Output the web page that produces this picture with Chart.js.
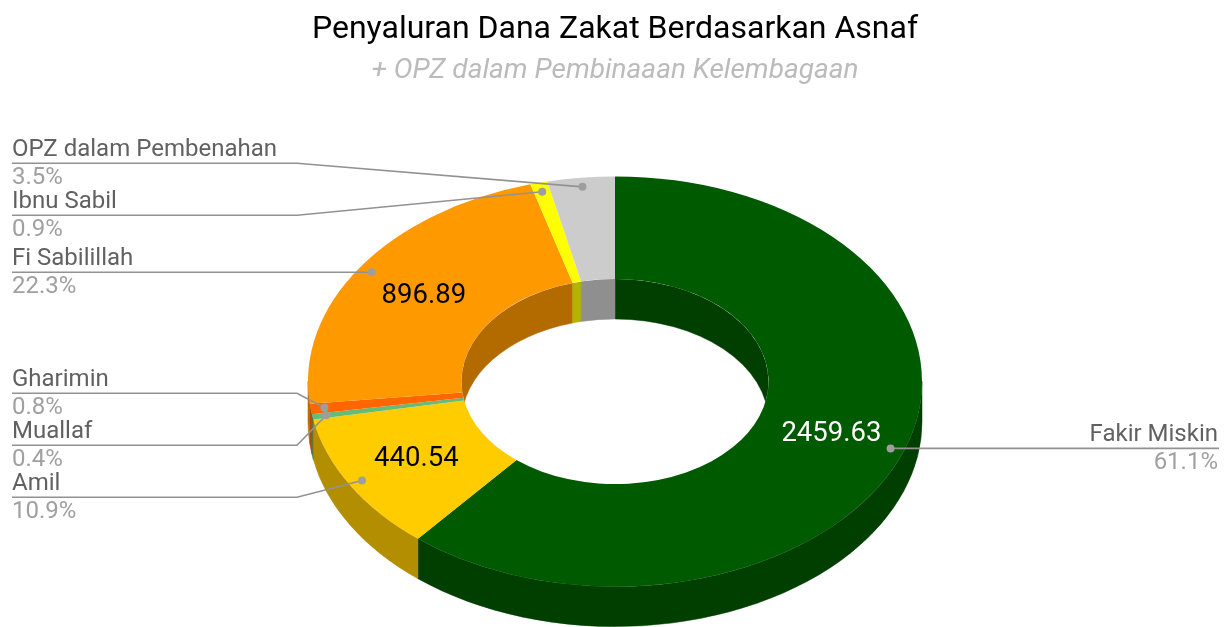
<!DOCTYPE html>
<html><head><meta charset="utf-8">
<script src="https://cdn.jsdelivr.net/npm/chart.js@4/dist/chart.umd.min.js"></script>
<style>html,body{margin:0;padding:0;background:#fff;overflow:hidden;} canvas{display:block;}</style>
</head><body>
<canvas id="c" width="1224" height="627"></canvas>
<script>
// ---- data ----
const categories = ['Fakir Miskin', 'Amil', 'Muallaf', 'Gharimin', 'Fi Sabilillah', 'Ibnu Sabil', 'OPZ dalam Pembenahan'];
const values = [2459.63, 440.54, 17, 33, 896.89, 36.5, 142.5];
const valueLabels = ['2459.63', '440.54', '', '', '896.89', '', ''];
const colors = ['#005a00', '#ffcc00', '#66bb77', '#ff6600', '#ff9900', '#ffff00', '#cccccc'];
const titleText = 'Penyaluran Dana Zakat Berdasarkan Asnaf';
const subtitleText = '+ OPZ dalam Pembinaaan Kelembagaan';

// ---- style ----
const TILT = 0.668;      // vertical squash of the pie
const DEPTH = 40;        // 3D thickness in px
const FONT = 'Roboto';

function shade(hex, f) {
  const n = parseInt(hex.slice(1), 16);
  const r = Math.round(((n >> 16) & 255) * f), g = Math.round(((n >> 8) & 255) * f), b = Math.round((n & 255) * f);
  return 'rgb(' + r + ',' + g + ',' + b + ')';
}
function luminance(hex) {
  const n = parseInt(hex.slice(1), 16);
  return (0.299 * ((n >> 16) & 255) + 0.587 * ((n >> 8) & 255) + 0.114 * (n & 255)) / 255;
}

function layoutLabels(items, gap) {
  items.sort((a, b) => a.dy - b.dy);
  let clusters = items.map(it => ({ items: [it] }));
  const pos = c => c.items.length === 1 ? c.items[0].dy :
    c.items.reduce((s, it, j) => s + it.target - j * gap, 0) / c.items.length;
  let changed = true;
  while (changed) {
    changed = false;
    for (let c = 0; c < clusters.length - 1; c++) {
      const A = clusters[c], B = clusters[c + 1];
      if (pos(A) + A.items.length * gap > pos(B)) {
        clusters.splice(c, 2, { items: A.items.concat(B.items) });
        changed = true; break;
      }
    }
  }
  clusters.forEach(c => { const p = pos(c); c.items.forEach((it, j) => it.y = p + j * gap); });
  return items;
}

const pie3d = {
  id: 'pie3d',
  beforeDatasetsDraw(chart) {
    const ctx = chart.ctx, meta = chart.getDatasetMeta(0);
    const a0 = meta.data[0], cx = a0.x, cy = a0.y;
    ctx.save();
    ctx.translate(cx, cy); ctx.scale(1, TILT); ctx.translate(-cx, -cy);
    const D = DEPTH / TILT;
    meta.data.forEach((arc, i) => {
      const p = arc.getProps(['startAngle', 'endAngle', 'outerRadius']);
      for (let k = -1; k <= 1; k++) {
        const lo = Math.max(p.startAngle, 2 * Math.PI * k), hi = Math.min(p.endAngle, 2 * Math.PI * k + Math.PI);
        if (hi > lo) {
          ctx.beginPath();
          ctx.arc(cx, cy, p.outerRadius, lo, hi);
          ctx.arc(cx, cy + D, p.outerRadius, hi, lo, true);
          ctx.closePath();
          ctx.fillStyle = shade(colors[i], 0.7);
          ctx.fill();
          ctx.strokeStyle = ctx.fillStyle; ctx.lineWidth = 0.6; ctx.stroke();
        }
      }
    });
  },
  afterDatasetsDraw(chart) {
    const ctx = chart.ctx, meta = chart.getDatasetMeta(0);
    const a0 = meta.data[0], cx = a0.x, cy = a0.y, rin = a0.innerRadius;
    const D = DEPTH / TILT;
    ctx.save();
    ctx.beginPath(); ctx.arc(cx, cy, rin, 0, 2 * Math.PI); ctx.clip();
    meta.data.forEach((arc, i) => {
      const p = arc.getProps(['startAngle', 'endAngle']);
      for (let k = -1; k <= 1; k++) {
        const lo = Math.max(p.startAngle, 2 * Math.PI * k - Math.PI), hi = Math.min(p.endAngle, 2 * Math.PI * k);
        if (hi > lo) {
          ctx.beginPath();
          ctx.arc(cx, cy, rin, lo, hi);
          ctx.arc(cx, cy + D, rin, hi, lo, true);
          ctx.closePath();
          ctx.fillStyle = shade(colors[i], 0.7);
          ctx.fill();
          ctx.strokeStyle = ctx.fillStyle; ctx.lineWidth = 0.6; ctx.stroke();
        }
      }
    });
    ctx.restore();
    ctx.restore();
  },
  afterDraw(chart) {
    const ctx = chart.ctx, meta = chart.getDatasetMeta(0);
    const a0 = meta.data[0], cx = a0.x, cy = a0.y, r = a0.outerRadius;
    const total = values.reduce((s, v) => s + v, 0);
    const left = [], right = [];
    meta.data.forEach((arc, i) => {
      const p = arc.getProps(['startAngle', 'endAngle']);
      const mid = (p.startAngle + p.endAngle) / 2;
      const dx = cx + Math.cos(mid) * r * 0.955, dy = cy + Math.sin(mid) * r * 0.955 * TILT;
      // labels below the equator also account for the visible side wall
      const item = { i, dx, dy, target: dy + DEPTH * Math.max(0, Math.sin(mid)) };
      (Math.cos(mid) < 0 ? left : right).push(item);
      if (valueLabels[i]) {
        ctx.save();
        ctx.font = '27.5px ' + FONT;
        ctx.textAlign = 'center'; ctx.textBaseline = 'middle';
        ctx.fillStyle = luminance(colors[i]) < 0.5 ? '#ffffff' : '#000000';
        ctx.fillText(valueLabels[i], cx + Math.cos(mid) * r * 0.75, cy + Math.sin(mid) * r * 0.75 * TILT);
        ctx.restore();
      }
    });
    layoutLabels(left, 52); layoutLabels(right, 52);
    const drawSide = (items, isLeft) => {
      items.forEach(it => {
        const i = it.i;
        const edgeX = isLeft ? 12 : 1219;
        const bendX = isLeft ? cx - r - 11 : cx + r + 11;
        ctx.save();
        ctx.strokeStyle = '#929292'; ctx.lineWidth = 1.6;
        ctx.beginPath();
        ctx.moveTo(edgeX, it.y);
        if (Math.abs(it.y - it.dy) > 0.5) ctx.lineTo(bendX, it.y);
        ctx.lineTo(it.dx, it.dy);
        ctx.stroke();
        ctx.fillStyle = '#9e9e9e';
        ctx.beginPath(); ctx.arc(it.dx, it.dy, 4, 0, 2 * Math.PI); ctx.fill();
        ctx.font = '24px ' + FONT;
        ctx.textBaseline = 'middle';
        ctx.textAlign = isLeft ? 'left' : 'right';
        const tx = isLeft ? 12 : 1218;
        ctx.fillStyle = '#616161';
        ctx.fillText(categories[i], tx, it.y - 13);
        ctx.fillStyle = '#a0a0a0';
        ctx.fillText((values[i] / total * 100).toFixed(1) + '%', tx, it.y + 15);
        ctx.restore();
      });
    };
    drawSide(left, true); drawSide(right, false);
  }
};

Chart.defaults.font.family = FONT;
new Chart(document.getElementById('c'), {
  type: 'doughnut',
  data: {
    labels: categories,
    datasets: [{ data: values, backgroundColor: colors, borderWidth: 0, clip: false }]
  },
  options: {
    responsive: false,
    animation: false,
    radius: 307,
    cutout: '50%',
    layout: { padding: { left: 6, right: 0, top: 0, bottom: 0 } },
    plugins: {
      legend: { display: false },
      tooltip: { enabled: false },
      title: { display: true, text: titleText, color: '#000000', font: { size: 32, weight: 'normal', family: FONT, lineHeight: 1.2 }, padding: { top: 11, bottom: 0 } },
      subtitle: { display: true, text: subtitleText, color: '#bbbbbb', font: { size: 28, style: 'italic', weight: 'normal', family: FONT, lineHeight: 1.2 }, padding: { top: 5, bottom: 48 } }
    }
  },
  plugins: [pie3d]
});
</script>
</body></html>
